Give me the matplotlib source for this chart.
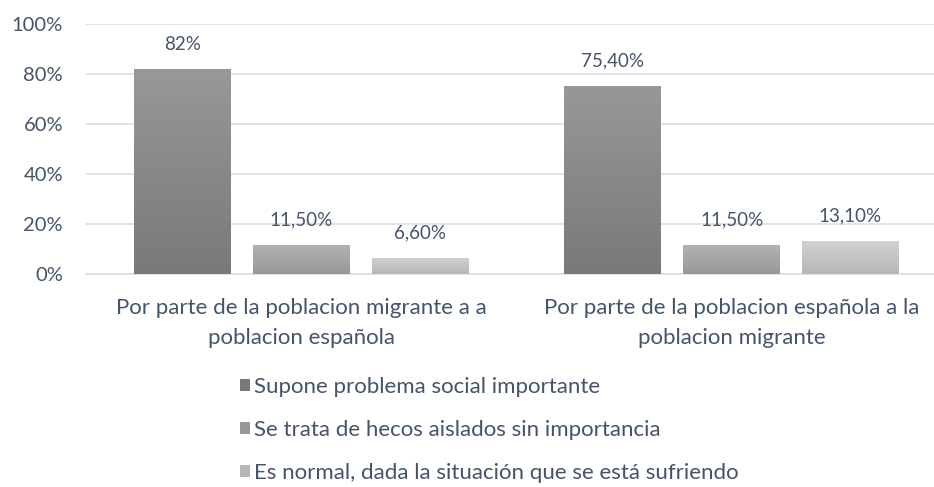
import numpy as np
import matplotlib.pyplot as plt
from matplotlib.colors import to_rgb
from matplotlib.patches import Patch

plt.rcParams['font.family'] = ['Lato', 'DejaVu Sans']

# Datos
categorias = ['Por parte de la poblacion migrante a a\npoblacion española',
              'Por parte de la poblacion española a la\npoblacion migrante']
series = ['Supone problema social importante',
          'Se trata de hecos aislados sin importancia',
          'Es normal, dada la situación que se está sufriendo']
valores = [[82.0, 75.4],
           [11.5, 11.5],
           [6.6, 13.1]]
etiquetas = [['82%', '75,40%'],
             ['11,50%', '11,50%'],
             ['6,60%', '13,10%']]
ticks = [0, 20, 40, 60, 80, 100]

# colores degradados (arriba, abajo)
grad = [('#989898', '#797979'), ('#b3b3b3', '#979797'), ('#d2d2d2', '#b6b6b6')]
texto = '#44546a'
rejilla = '#dadee4'

fig = plt.figure(figsize=(9.34, 4.87), dpi=100)
ax = fig.add_axes([86/934, 1 - 274/487, 1 - 86/934, 250/487])

x = np.arange(len(categorias))
ancho = 0.225
paso = 0.276

for i, s in enumerate(series):
    barras = ax.bar(x + (i - 1) * paso, valores[i], ancho, color=grad[i][1], zorder=3)
    top, bot = np.array(to_rgb(grad[i][0])), np.array(to_rgb(grad[i][1]))
    g = np.linspace(0, 1, 100)[:, None, None]
    img = top * (1 - g) + bot * g
    for b, lab in zip(barras, etiquetas[i]):
        x0, y0 = b.get_x(), b.get_y()
        w, h = b.get_width(), b.get_height()
        im = ax.imshow(img, extent=[x0, x0 + w, y0, y0 + h], aspect='auto',
                       origin='upper', zorder=4)
        im.set_clip_path(b)
        ax.text(x0 + w / 2, h + 6.6, lab, ha='center', va='bottom',
                fontsize=13.5, color=texto)

ax.set_xlim(-0.5, 1.47)
ax.set_ylim(0, 100)
ax.set_yticks(ticks)
ax.set_yticklabels([f'{t}%' for t in ticks], fontsize=14.5, color=texto)
ax.set_xticks(x)
ax.set_xticklabels(categorias, fontsize=16, color=texto, linespacing=1.65)
ax.tick_params(length=0)
ax.tick_params(axis='y', pad=16.5)
ax.tick_params(axis='x', pad=17)
ax.grid(axis='y', color=rejilla, linewidth=1.2, zorder=0)
for sp in ['top', 'right', 'left']:
    ax.spines[sp].set_visible(False)
ax.spines['bottom'].set_color(rejilla)
ax.spines['bottom'].set_linewidth(1.2)

handles = [Patch(facecolor=grad[i][1], edgecolor='none') for i in range(3)]
leg = fig.legend(handles, series, loc='upper left', bbox_to_anchor=(240/934, 1 - 377/487),
                 frameon=False, fontsize=16, handlelength=0.45, handleheight=0.45,
                 handletextpad=0.2, labelspacing=1.03, borderaxespad=0, borderpad=0)
for t in leg.get_texts():
    t.set_color(texto)

fig.savefig('out.png', dpi=100)
